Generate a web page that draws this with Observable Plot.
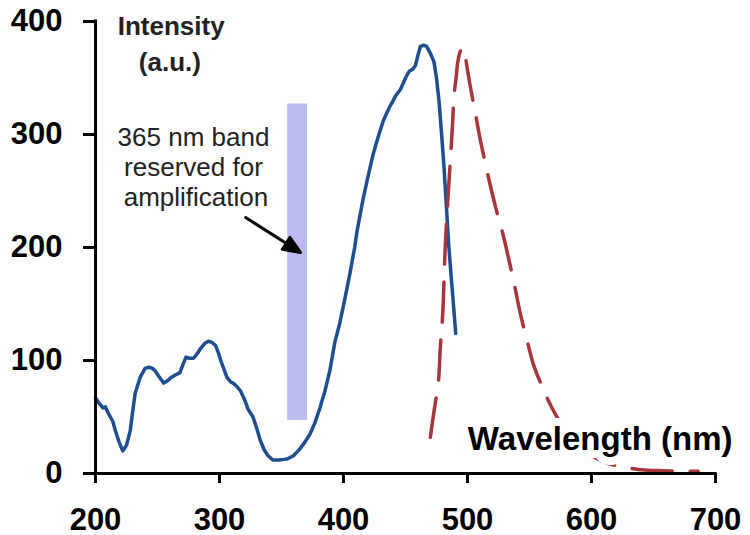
<!DOCTYPE html>
<html>
<head>
<meta charset="utf-8">
<script src="https://cdn.jsdelivr.net/npm/d3@7"></script>
<script src="https://cdn.jsdelivr.net/npm/@observablehq/plot@0.6"></script>
<style>
  html, body { margin: 0; padding: 0; background: #fff; }
  #chart svg { display: block; }
</style>
</head>
<body>
<div id="chart"></div>
<script>
// Absorption / excitation spectrum (solid blue)
const absWavelength = [200,203,206,208,210,212,214,216,219,222,225,228,230,232,236,240,243,246,248,251,255,258,261,264,268,270,273,276,279,282,285,288,291,294,297,299,301,304,306,309,311,314,317,320,323,327,330,333,336,339,343,348,352,355,360,365,369,373,377,381,385,389,393,397,401,405,409,411,416,420,424,428,432,437,442,446,450,453,456,458,460,462,465,467,470,473,475,477,479,481,483,485,487,489,490.5];
const absIntensity  = [67,62,58,59,54,50,46,38,28,20,25,38,55,71,85,93,94,93,91,86,80,82,85,87,89,95,103,102,102,106,111,115,117,116,113,107,100,91,85,81,80,77,73,66,57,50,40,29,21,16,12,12,12.5,13,16,22,28,35,45,58,73,91,116,133,154,176,200,215,244,264,283,298,312,324,334,340,350,356,358,361,370,378,379,378,372,364,350,330,302,272,236,200,172,145,124];

// Emission spectrum (dashed red)
const emWavelength = [470,473,476.6,478,480,482,484,486,488,489,491,492,494,496,498,500,503,506.5,510,514.5,519,524,529,533,538,542.7,548,553,559,565,575,590,600,613,625,638,653,670,686];
const emIntensity  = [32,55,82,110,141,200,240,274,310,333,352,363,373,377,370,357,338,318,297,274,252,230,210,191,166,141,118,97,80,65,45,25,16,9,6,3.5,2.6,2,2];

// Axis ticks
const xTicks = [200,300,400,500,600,700];
const yTicks = [0,100,200,300,400];

// 365 nm band (wavelength range, intensity range)
const bandWavelength = [355, 371];
const bandIntensity = [47, 327];

// Annotations
const annoText = ["Intensity", "(a.u.)", "365 nm band", "reserved for", "amplification"];
const annoX = [261, 260, 279, 279, 281];
const annoY = [395, 364, 297, 271, 244];
const xLabel = "Wavelength (nm)";
const xLabelPos = [607, 30.5];
const arrowTip = [365.3, 195.6];

const absData = absWavelength.map((x, i) => ({x, y: absIntensity[i]}));
const emData = emWavelength.map((x, i) => ({x, y: emIntensity[i]}));
const annoData = annoText.map((t, i) => ({t, x: annoX[i], y: annoY[i], big: i < 2}));
const band = [{x1: bandWavelength[0], x2: bandWavelength[1], y1: bandIntensity[0], y2: bandIntensity[1]}];

const FONT = "'Liberation Sans', Arial, Helvetica, sans-serif";

// arrow with a filled triangular head
const filledArrow = {
  draw(context, l) {
    context.moveTo(0, 0);
    context.lineTo(0, -l + 10);
    context.moveTo(0, -l);
    context.lineTo(-7, -l + 17);
    context.lineTo(7, -l + 17);
    context.closePath();
  }
};

const chart = Plot.plot({
  width: 750,
  height: 535,
  marginLeft: 95,
  marginRight: 35,
  marginTop: 21,
  marginBottom: 62,
  style: {fontFamily: FONT, background: "#fff", overflow: "visible"},
  x: {domain: [200, 700], axis: null},
  y: {domain: [0, 400], axis: null},
  marks: [
    Plot.rect(band, {x1: "x1", x2: "x2", y1: "y1", y2: "y2", fill: "#bcbcf0"}),
    Plot.line(absData, {x: "x", y: "y", stroke: "#1d4e8f", strokeWidth: 3.5, strokeLinejoin: "round"}),
    Plot.line(emData, {x: "x", y: "y", stroke: "#a8353a", strokeWidth: 3.5, strokeDasharray: "40,18", curve: "catmull-rom"}),
    Plot.text([xLabel], {x: () => xLabelPos[0], y: () => xLabelPos[1], text: d => d, fontSize: 33, fontWeight: "bold", fill: "black", stroke: "white", strokeWidth: 16, textAnchor: "middle"}),
    Plot.text(annoData.filter(d => d.big), {x: "x", y: "y", text: "t", fontSize: 26, fontWeight: "bold", fill: "#222", textAnchor: "middle"}),
    Plot.text(annoData.filter(d => !d.big), {x: "x", y: "y", text: "t", fontSize: 26, fill: "#222", textAnchor: "middle"}),
    Plot.vector([arrowTip], {x: d => d[0], y: d => d[1], length: 65, rotate: 122.5, anchor: "end", shape: filledArrow, stroke: "black", fill: "black", strokeWidth: 3}),
    Plot.axisY({ticks: yTicks, tickSize: 12, tickPadding: 21, fontSize: 31, fontWeight: "bold", strokeWidth: 3, color: "black", label: null}),
    Plot.axisX({ticks: xTicks, tickSize: 10, tickPadding: 24, fontSize: 31, fontWeight: "bold", strokeWidth: 3, color: "black", label: null}),
    Plot.ruleX([200], {y1: 0, y2: 400, stroke: "black", strokeWidth: 3, strokeLinecap: "square"}),
    Plot.ruleY([0], {x1: 200, x2: 700, stroke: "black", strokeWidth: 3, strokeLinecap: "square"})
  ]
});
document.getElementById("chart").appendChild(chart);
</script>
</body>
</html>
